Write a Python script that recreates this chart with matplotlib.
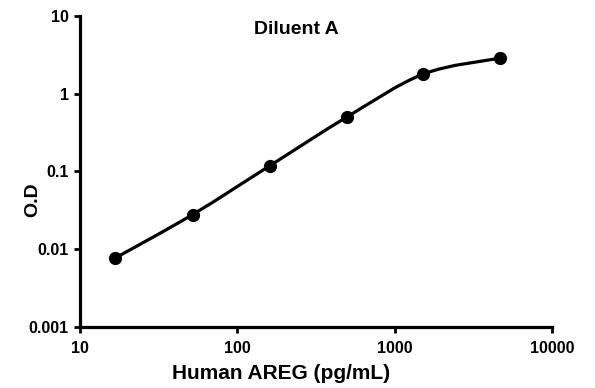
import numpy as np
import matplotlib
matplotlib.use("Agg")
import matplotlib.pyplot as plt
from matplotlib.path import Path
from matplotlib.patches import PathPatch

plt.rcParams['font.family'] = ['Liberation Sans', 'DejaVu Sans']
plt.rcParams['font.weight'] = 'bold'

# standard curve readings
conc = [16.7, 52, 160, 495, 1520, 4630]
od = [0.0077, 0.028, 0.118, 0.50, 1.79, 2.86]
xticks = [10, 100, 1000, 10000]
yticks = [0.001, 0.01, 0.1, 1, 10]


def smooth_path(x, y):
    # Catmull-Rom style bezier in log space (like a smoothed spreadsheet line)
    lx, ly = np.log10(x), np.log10(y)
    n = len(lx)
    verts = [(x[0], y[0])]
    codes = [Path.MOVETO]
    t = 1 / 6
    for i in range(n - 1):
        p0 = i - 1 if i > 0 else i
        p3 = i + 2 if i + 2 < n else i + 1
        c1 = (lx[i] + (lx[i + 1] - lx[p0]) * t, ly[i] + (ly[i + 1] - ly[p0]) * t)
        c2 = (lx[i + 1] - (lx[p3] - lx[i]) * t, ly[i + 1] - (ly[p3] - ly[i]) * t)
        for c in (c1, c2):
            verts.append((10 ** c[0], 10 ** c[1]))
        verts.append((x[i + 1], y[i + 1]))
        codes += [Path.CURVE4] * 3
    return Path(verts, codes)


fig = plt.figure(figsize=(5.95, 3.88), dpi=100)
ax = fig.add_axes([0.1345, 0.157, 0.7935, 0.802])
ax.set_xscale('log')
ax.set_yscale('log')
ax.set_xlim(10, 10000)
ax.set_ylim(0.001, 10)

ax.add_patch(PathPatch(smooth_path(conc, od), fill=False, lw=2.3, color='black'))
ax.plot(conc, od, 'o', color='black', markersize=8.5)

ax.set_xticks(xticks)
ax.set_xticklabels([str(v) for v in xticks])
ax.set_yticks(yticks)
ax.set_yticklabels(['0.001', '0.01', '0.1', '1', '10'])
ax.minorticks_off()
ax.tick_params(direction='out', length=4, width=2, labelsize=11.5, pad=4)
ax.tick_params(axis='x', pad=6)

for s in ['top', 'right']:
    ax.spines[s].set_visible(False)
for s in ['left', 'bottom']:
    ax.spines[s].set_linewidth(2.3)

ax.text(0.459, 0.955, 'Diluent A', transform=ax.transAxes, ha='center', va='center',
        fontsize=14, fontweight='bold')
ax.set_xlabel('Human AREG (pg/mL)', fontsize=15, fontweight='bold')
ax.xaxis.set_label_coords(0.426, -0.118)
ax.set_ylabel('O.D', fontsize=14, fontweight='bold')
ax.yaxis.set_label_coords(-0.082, 0.41)

fig.savefig('out.png', dpi=100)
